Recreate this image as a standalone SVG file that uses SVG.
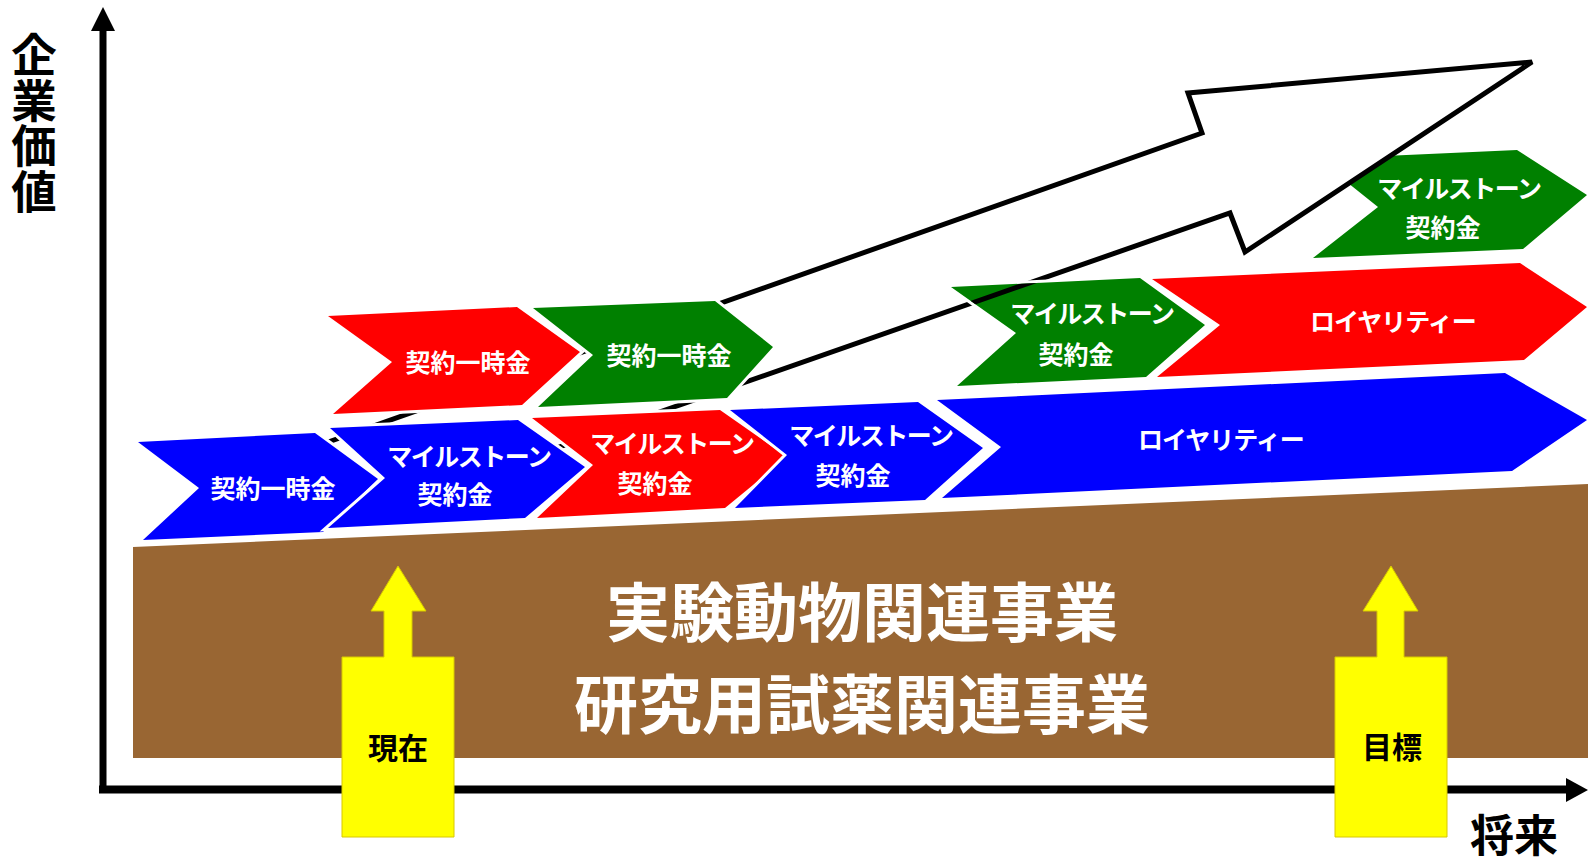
<svg xmlns="http://www.w3.org/2000/svg" width="1588" height="865" viewBox="0 0 1588 865">
<style>
.t{font-family:"Noto Sans CJK JP","Noto Sans CJK SC",sans-serif;font-weight:bold;text-anchor:middle}
.w{fill:#fff;font-size:25px}
.k{letter-spacing:-1.5px}
.ch{stroke:#fff;stroke-width:6;stroke-linejoin:miter;paint-order:stroke}
.b{fill:#0000ff}.r{fill:#ff0000}.g{fill:#008000}
.ya{fill:#ffff00;stroke:#d8c800;stroke-width:1}
.ax{stroke:#000;fill:none}
</style>
<defs>
<path id="arrowShape" d="M300,452 L1202,133 L1188,93 L1532,62 L1245,252 L1230,213 L320,530.5 Z"/>
<clipPath id="clipC8"><polygon points="951,287 1140,278 1205,325 1146,377 957,386 1016,333"/></clipPath>
</defs>
<rect width="1588" height="865" fill="#fff"/>
<g id="axes">
<line class="ax" x1="103" y1="793" x2="103" y2="28" stroke-width="7"/>
<polygon points="91,31 103,7 115,31" fill="#000"/>
<line class="ax" x1="99" y1="789.5" x2="1568" y2="789.5" stroke-width="8"/>
<polygon points="1566,778 1588,790 1566,802" fill="#000"/>
<text class="t" font-size="45.5" writing-mode="vertical-rl" style="text-anchor:start" x="34" y="32">企業価値</text>
<text class="t" font-size="44" x="1514" y="852">将来</text>
</g>
<g id="base">
<polygon points="133,547 1588,484 1588,758 133,758" fill="#996633"/>
<text class="t" font-size="64" fill="#fff" x="862" y="636">実験動物関連事業</text>
<text class="t" font-size="64" fill="#fff" x="862" y="728">研究用試薬関連事業</text>
</g>
<g id="c10">
<polygon class="ch g" points="1318,159 1517,150 1587,195 1523,249 1313,258 1378,207"/>
</g>
<g id="growth-arrow">
<use href="#arrowShape" fill="#fff" stroke="#000" stroke-width="5" stroke-linejoin="miter"/>
</g>
<g id="c10-text">
<text class="t w k" x="1459" y="198">マイルストーン</text>
<text class="t w" x="1443" y="237">契約金</text>
</g>
<g id="c1">
<polygon class="ch b" points="138,442 315,433 378,479 323,532 143,540 199,488"/>
<text class="t w" font-size="26" x="273" y="498">契約一時金</text>
</g>
<g id="c2">
<polygon class="ch b" points="330,428 518,420 585,467 525,518 328,528 385,478"/>
<text class="t w k" x="469" y="466">マイルストーン</text>
<text class="t w" x="455" y="504">契約金</text>
</g>
<g id="c3">
<polygon class="ch r" points="532,418 720,410 787,457 725,508 537,518 593,465"/>
<text class="t w k" x="672" y="453">マイルストーン</text>
<text class="t w" x="655" y="493">契約金</text>
</g>
<g id="c4">
<polygon class="ch b" points="730,410 918,402 983,448 925,500 735,508 787,455"/>
<text class="t w k" x="871" y="445">マイルストーン</text>
<text class="t w" x="853" y="485">契約金</text>
</g>
<g id="c5">
<polygon class="ch b" points="937,400 1505,373 1587,420 1512,471 942,498 1001,447"/>
<text class="t w" font-size="24" letter-spacing="-1" x="1221" y="449">ロイヤリティー</text>
</g>
<g id="c6">
<polygon class="ch r" points="328,316 517,307 580,352 522,405 333,414 392,362"/>
<text class="t w" font-size="26" x="468" y="372">契約一時金</text>
</g>
<g id="c7">
<polygon class="ch g" points="533,308 715,301 773,347 727,398 538,407 593,355"/>
<text class="t w" font-size="26" x="669" y="365">契約一時金</text>
</g>
<g id="c8">
<polygon class="ch g" points="951,287 1140,278 1205,325 1146,377 957,386 1016,333"/>
<use href="#arrowShape" fill="none" stroke="#000" stroke-width="5" clip-path="url(#clipC8)"/>
<text class="t w k" x="1092" y="323">マイルストーン</text>
<text class="t w" x="1076" y="364">契約金</text>
</g>
<g id="c9">
<polygon class="ch r" points="1152,279 1520,263 1587,307 1524,360 1157,377 1220,325"/>
<text class="t w" font-size="24" letter-spacing="-1" x="1393" y="331">ロイヤリティー</text>
</g>
<g id="now">
<polygon class="ya" points="342,657 384,657 384,611 371,611 398,566 426,611 412,611 412,657 454,657 454,837 342,837"/>
<text class="t" font-size="30" x="398" y="759">現在</text>
</g>
<g id="goal">
<polygon class="ya" points="1335,657 1377,657 1377,611 1363,611 1391,566 1418,611 1404,611 1404,657 1447,657 1447,837 1335,837"/>
<text class="t" font-size="30" x="1392" y="758">目標</text>
</g>
</svg>
